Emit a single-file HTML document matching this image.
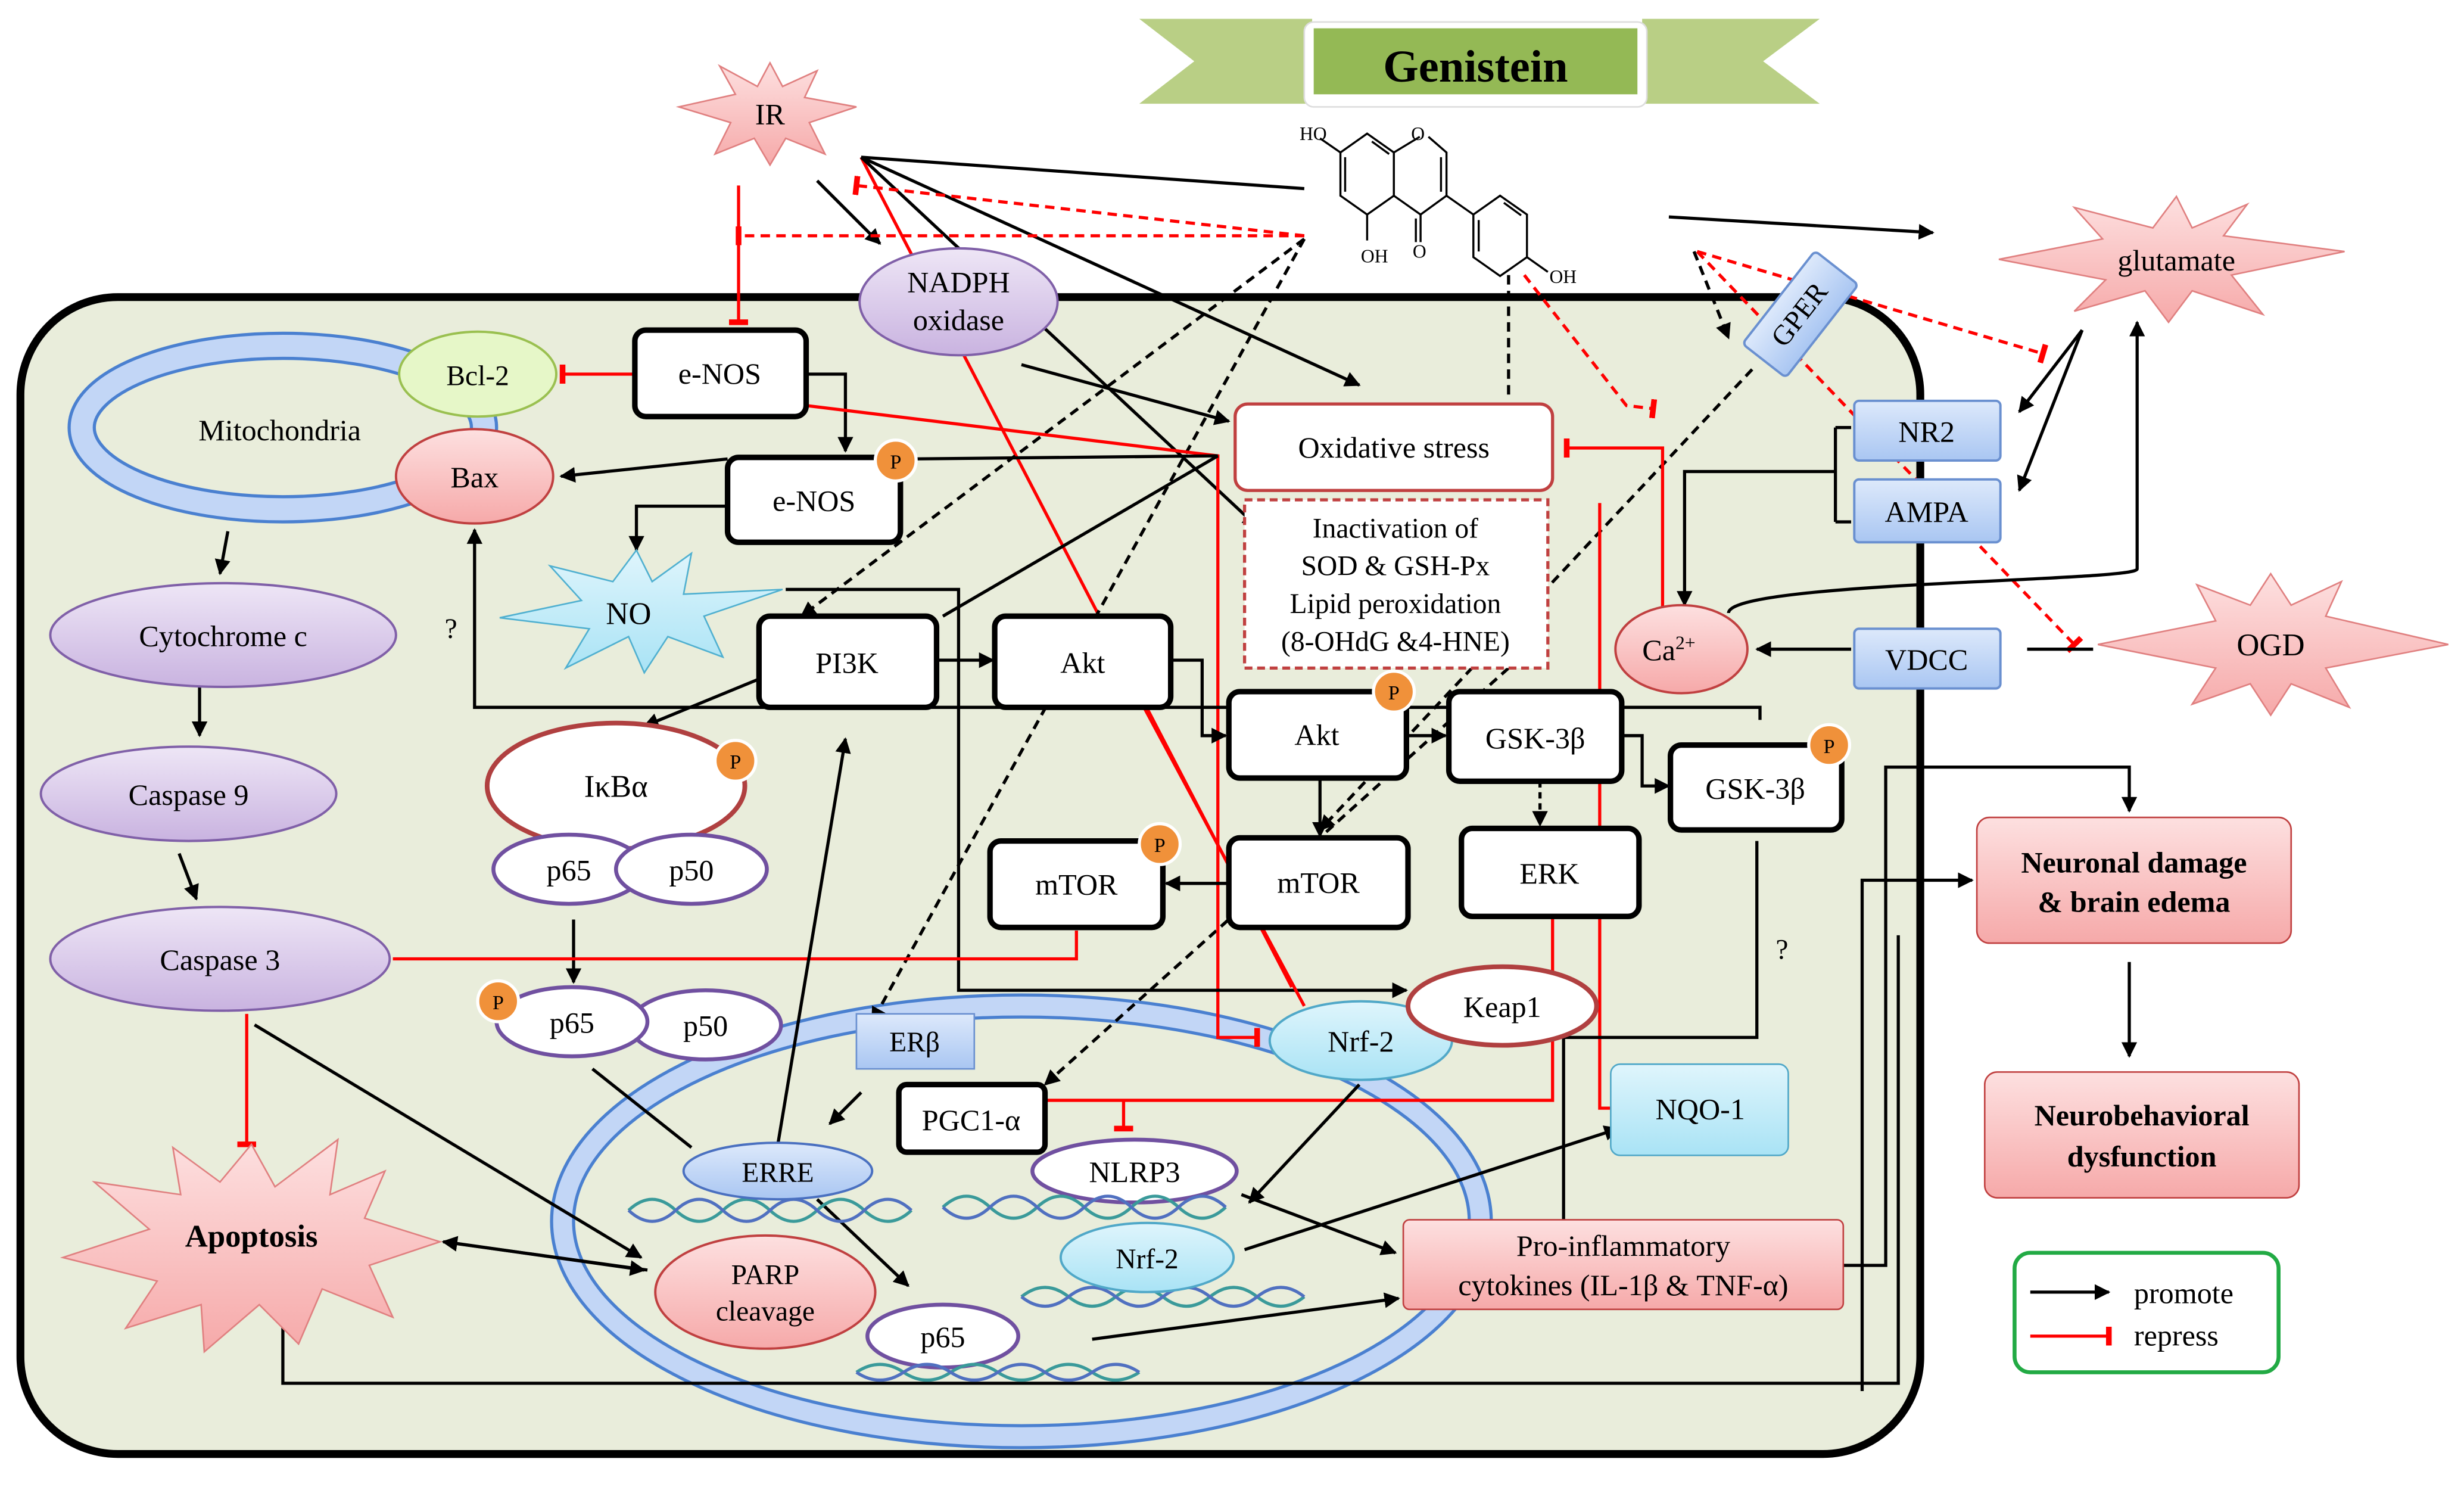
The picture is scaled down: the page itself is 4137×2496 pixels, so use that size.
<!DOCTYPE html>
<html><head><meta charset="utf-8"><style>
html,body{margin:0;padding:0;background:#fff;}
svg{display:block;}
text{font-family:"Liberation Serif",serif;fill:#000;}
</style></head><body>
<svg width="4137" height="2496" viewBox="0 0 1568 946" preserveAspectRatio="none" xmlns="http://www.w3.org/2000/svg">
<defs>
<marker id="a" viewBox="0 0 10 10" refX="9" refY="5" markerWidth="5" markerHeight="5" orient="auto"><path d="M0,0L10,5L0,10z" fill="#000"/></marker>
<marker id="t" viewBox="0 0 10 10" refX="5" refY="5" markerWidth="6" markerHeight="6" orient="auto"><path d="M5,-2V12" stroke="#f00" stroke-width="3"/></marker>
<linearGradient id="pu" x1="0" y1="0" x2="0" y2="1"><stop offset="0" stop-color="#eee6f6"/><stop offset="1" stop-color="#c9b3e0"/></linearGradient>
<linearGradient id="pk" x1="0" y1="0" x2="0" y2="1"><stop offset="0" stop-color="#fde0e0"/><stop offset="1" stop-color="#f6a9a9"/></linearGradient>
<linearGradient id="cy" x1="0" y1="0" x2="0" y2="1"><stop offset="0" stop-color="#dff5fc"/><stop offset="1" stop-color="#a9e3f5"/></linearGradient>
<linearGradient id="bl" x1="0" y1="0" x2="0" y2="1"><stop offset="0" stop-color="#dde9fb"/><stop offset="1" stop-color="#a9c6f2"/></linearGradient>
</defs>

<!-- cell -->
<rect x="13" y="189" width="1209" height="736" rx="62" fill="#e9eddb" stroke="#000" stroke-width="5"/>

<!-- nucleus (behind) -->
<ellipse cx="650" cy="777" rx="292" ry="137" fill="none" stroke="#4a80d0" stroke-width="16"/>
<ellipse cx="650" cy="777" rx="292" ry="137" fill="none" stroke="#c2d6f6" stroke-width="12"/>

<!-- banner -->
<polygon points="725,12 835,12 835,66 725,66 760,39" fill="#b9cf85"/>
<polygon points="1045,12 1158,12 1122,39 1158,66 1045,66" fill="#b9cf85"/>
<rect x="830" y="14" width="218" height="54" rx="6" fill="#fff" stroke="#ddd"/>
<rect x="836" y="18" width="206" height="42" fill="#94b955"/>
<text x="939" y="52" font-size="29" font-weight="bold" text-anchor="middle">Genistein</text>

<!-- structure -->
<g stroke="#000" stroke-width="1.3" fill="none">
<path d="M870,85 L887,97 L887,124.5 L870,136.5 L853,124.5 L853,97 Z"/>
<path d="M887,97 L903.5,87 M909,87 L920.5,97 L920.5,124.5 L904,136.5 L887,124.5"/>
<path d="M904,136.5 V154 M920.5,124.5 L937.6,136.5"/>
<path d="M937.6,136.5 L954.6,124.5 L971.7,136.5 L971.7,163.6 L954.6,175.6 L937.6,163.6 Z"/>
<path d="M971.7,163.6 L985,173 M853,97 L840,88 M870,136.5 V153"/>
<path d="M856,100 V122 M873,90 L884,98 M917,100 V122 M901,139 V154 M957,129 L968,137 M941,140 V160"/>
</g>
<text x="827" y="89" font-size="12" font-family="Liberation Sans">HO</text>
<text x="866" y="167" font-size="12" font-family="Liberation Sans">OH</text>
<text x="898" y="89" font-size="12" font-family="Liberation Sans">O</text>
<text x="899" y="164" font-size="12" font-family="Liberation Sans">O</text>
<text x="986" y="180" font-size="12" font-family="Liberation Sans">OH</text>

<!-- connectors -->
<g fill="none" stroke-width="2">
<path d="M548,100 L830,120" stroke="#000"/>
<path d="M548,100 L865,245" stroke="#000" marker-end="url(#a)"/>
<path d="M520,115 L560,155" stroke="#000" marker-end="url(#a)"/>
<path d="M548,100 L822,628" stroke="#f00"/>
<path d="M548,100 L800,335" stroke="#000" marker-end="url(#a)"/>
<path d="M470,118 V205" stroke="#f00" marker-end="url(#t)"/>
<path d="M830,150 L470,150" stroke="#f00" stroke-dasharray="6,4" marker-end="url(#t)"/>
<path d="M830,150 L545,118" stroke="#f00" stroke-dasharray="6,4" marker-end="url(#t)"/>
<path d="M830,152 L510,392" stroke="#000" stroke-dasharray="6,4" marker-end="url(#a)"/>
<path d="M830,152 L555,650" stroke="#000" stroke-dasharray="6,4" marker-end="url(#a)"/>
<path d="M960,175 V255" stroke="#000" stroke-dasharray="6,4"/>
<path d="M970,175 L1035,258 L1052,260" stroke="#f00" stroke-dasharray="6,4" marker-end="url(#t)"/>
<path d="M1062,138 L1230,148" stroke="#000" marker-end="url(#a)"/>
<path d="M1078,160 L1100,215" stroke="#000" stroke-dasharray="6,4" marker-end="url(#a)"/>
<path d="M1080,160 L1300,225" stroke="#f00" stroke-dasharray="6,4" marker-end="url(#t)"/>
<path d="M1080,160 L1320,410" stroke="#f00" stroke-dasharray="6,4" marker-end="url(#t)"/>
<path d="M1115,235 L840,528" stroke="#000" stroke-dasharray="6,4" marker-end="url(#a)"/>
<path d="M960,425 L665,690" stroke="#000" stroke-dasharray="6,4" marker-end="url(#a)"/>
<path d="M1325,210 L1285,312" stroke="#000" marker-end="url(#a)"/>
<path d="M1325,210 L1285,262" stroke="#000" marker-end="url(#a)"/>
<path d="M1100,390 C1100,370 1360,370 1360,362 V205" stroke="#000" marker-end="url(#a)"/>
<path d="M1168,272 V332 M1168,300 H1072 V385" stroke="#000" marker-end="url(#a)"/>
<path d="M1168,272 H1178 M1168,332 H1178" stroke="#000"/>
<path d="M1178,413 H1118" stroke="#000" marker-end="url(#a)"/>
<path d="M1332,413 H1290" stroke="#000"/>
<path d="M1058,395 V285 H997" stroke="#f00" marker-end="url(#t)"/>
<path d="M404,238 H358" stroke="#f00" marker-end="url(#t)"/>
<path d="M513,238 H538 V287" stroke="#000" marker-end="url(#a)"/>
<path d="M463,292 L357,303" stroke="#000" marker-end="url(#a)"/>
<path d="M463,322 H405 V350" stroke="#000" marker-end="url(#a)"/>
<path d="M513,258 L775,290 L775,660 L800,660" stroke="#f00" marker-end="url(#t)"/>
<path d="M650,232 L782,268" stroke="#000" marker-end="url(#a)"/>
<path d="M775,290 L600,392" stroke="#000"/>
<path d="M575,292 L775,290" stroke="#000"/>
<path d="M596,420 H632" stroke="#000" marker-end="url(#a)"/>
<path d="M483,432 L410,462" stroke="#000" marker-end="url(#a)"/>
<path d="M745,420 H765 V468 H780" stroke="#000" marker-end="url(#a)"/>
<path d="M895,468 H920" stroke="#000" marker-end="url(#a)"/>
<path d="M1032,468 H1045 V500 H1062" stroke="#000" marker-end="url(#a)"/>
<path d="M980,497 V525" stroke="#000" stroke-dasharray="4,3" marker-end="url(#a)"/>
<path d="M840,495 V532" stroke="#000" marker-end="url(#a)"/>
<path d="M782,562 H742" stroke="#000" marker-end="url(#a)"/>
<path d="M1120,458 V450 H302 V337" stroke="#000" marker-end="url(#a)"/>
<path d="M500,375 H610 V630 H895" stroke="#000" marker-end="url(#a)"/>
<path d="M728,450 L830,640" stroke="#f00"/>
<path d="M988,583 V700 H665" stroke="#f00"/>
<path d="M715,700 V718" stroke="#f00" marker-end="url(#t)"/>
<path d="M1018,320 V705 H1025" stroke="#f00"/>
<path d="M1118,535 V660 H995 V790" stroke="#000" marker-end="url(#a)"/>
<path d="M1208,595 V880 H180 V832" stroke="#000"/>
<path d="M1173,805 H1200 V488 H1355 V516" stroke="#000" marker-end="url(#a)"/>
<path d="M1185,885 V560 H1255" stroke="#000" marker-end="url(#a)"/>
<path d="M1355,612 V672" stroke="#000" marker-end="url(#a)"/>
<path d="M365,585 V625" stroke="#000" marker-end="url(#a)"/>
<path d="M250,610 H685 V592" stroke="#f00"/>
<path d="M157,645 V728" stroke="#f00" marker-end="url(#t)"/>
<path d="M162,652 L408,800" stroke="#000" marker-end="url(#a)"/>
<path d="M412,808 L282,790" stroke="#000" marker-end="url(#a)"/>
<path d="M283,790 L410,808" stroke="#000" marker-end="url(#a)"/>
<path d="M377,680 L440,730" stroke="#000"/>
<path d="M495,728 L538,470" stroke="#000" marker-end="url(#a)"/>
<path d="M548,695 L528,715" stroke="#000" marker-end="url(#a)"/>
<path d="M520,763 L578,818" stroke="#000" marker-end="url(#a)"/>
<path d="M790,760 L888,797" stroke="#000" marker-end="url(#a)"/>
<path d="M865,690 L795,765" stroke="#000" marker-end="url(#a)"/>
<path d="M792,795 L1030,718" stroke="#000" marker-end="url(#a)"/>
<path d="M695,852 L890,826" stroke="#000" marker-end="url(#a)"/>
<path d="M145,338 L140,365" stroke="#000" marker-end="url(#a)"/>
<path d="M127,437 V468" stroke="#000" marker-end="url(#a)"/>
<path d="M114,543 L125,572" stroke="#000" marker-end="url(#a)"/>
</g>
<text x="283" y="406" font-size="18">?</text>
<text x="1130" y="610" font-size="18">?</text>

<!-- starbursts -->
<polygon points="490,40 498,55 520,45 512,62 545,68 515,78 525,98 500,88 490,105 480,88 455,98 465,78 432,68 468,60 458,42 482,55" fill="url(#pk)" stroke="#e08080"/>
<text x="490" y="79" font-size="19" text-anchor="middle">IR</text>
<polygon points="1385,125 1395,145 1430,130 1415,150 1492,160 1420,175 1440,200 1395,185 1380,205 1365,185 1320,198 1340,178 1272,165 1338,152 1320,132 1370,145" fill="url(#pk)" stroke="#e08080"/>
<text x="1385" y="172" font-size="19" text-anchor="middle">glutamate</text>
<polygon points="1445,365 1458,385 1490,370 1480,392 1558,410 1480,425 1495,450 1458,435 1445,455 1432,435 1395,448 1410,425 1335,410 1410,395 1398,372 1432,385" fill="url(#pk)" stroke="#e08080"/>
<text x="1445" y="417" font-size="20" text-anchor="middle">OGD</text>
<polygon points="405,350 415,370 440,352 435,378 498,375 448,392 460,418 425,405 410,428 400,405 360,425 375,400 318,393 370,382 350,360 390,370" fill="url(#cy)" stroke="#50b0d0"/>
<text x="400" y="397" font-size="20" text-anchor="middle">NO</text>
<polygon points="160,728 175,755 215,725 210,760 245,745 232,775 280,790 235,805 250,838 205,820 190,855 165,830 130,860 128,830 80,845 100,815 40,800 95,782 60,752 115,760 110,730 140,752" fill="url(#pk)" stroke="#e08080"/>
<text x="160" y="793" font-size="20" font-weight="bold" text-anchor="middle">Apoptosis</text>

<!-- mitochondria -->
<ellipse cx="180" cy="272" rx="128" ry="52" fill="none" stroke="#4a80d0" stroke-width="18"/>
<ellipse cx="180" cy="272" rx="128" ry="52" fill="none" stroke="#c2d6f6" stroke-width="14"/>
<text x="178" y="280" font-size="19" text-anchor="middle">Mitochondria</text>
<ellipse cx="304" cy="238" rx="50" ry="27" fill="#e6f7c8" stroke="#9ac050" stroke-width="1.5"/>
<text x="304" y="245" font-size="18" text-anchor="middle">Bcl-2</text>
<ellipse cx="302" cy="303" rx="50" ry="30" fill="url(#pk)" stroke="#c04040" stroke-width="1.5"/>
<text x="302" y="310" font-size="19" text-anchor="middle">Bax</text>

<!-- purple ellipses -->
<g stroke="#8060a8" stroke-width="1.5" fill="url(#pu)">
<ellipse cx="142" cy="404" rx="110" ry="33"/>
<ellipse cx="120" cy="505" rx="94" ry="30"/>
<ellipse cx="140" cy="610" rx="108" ry="33"/>
<ellipse cx="610" cy="192" rx="63" ry="34"/>
</g>
<text x="142" y="411" font-size="19" text-anchor="middle">Cytochrome c</text>
<text x="120" y="512" font-size="19" text-anchor="middle">Caspase 9</text>
<text x="140" y="617" font-size="19" text-anchor="middle">Caspase 3</text>
<text x="610" y="186" font-size="19" text-anchor="middle">NADPH</text>
<text x="610" y="210" font-size="19" text-anchor="middle">oxidase</text>

<!-- boxes -->
<g fill="#fff" stroke="#000" stroke-width="3.5">
<rect x="404" y="210" width="109" height="55" rx="7"/>
<rect x="463" y="291" width="110" height="54" rx="7"/>
<rect x="483" y="392" width="113" height="58" rx="7"/>
<rect x="633" y="392" width="112" height="58" rx="7"/>
<rect x="782" y="440" width="113" height="55" rx="7"/>
<rect x="922" y="440" width="110" height="57" rx="7"/>
<rect x="1063" y="474" width="109" height="54" rx="7"/>
<rect x="630" y="535" width="110" height="55" rx="7"/>
<rect x="782" y="533" width="114" height="57" rx="7"/>
<rect x="930" y="527" width="113" height="56" rx="7"/>
<rect x="572" y="690" width="93" height="43" rx="5"/>
</g>
<g font-size="19" text-anchor="middle">
<text x="458" y="244">e-NOS</text>
<text x="518" y="325">e-NOS</text>
<text x="539" y="428">PI3K</text>
<text x="689" y="428">Akt</text>
<text x="838" y="474">Akt</text>
<text x="977" y="476">GSK-3β</text>
<text x="1117" y="508">GSK-3β</text>
<text x="685" y="569">mTOR</text>
<text x="839" y="568">mTOR</text>
<text x="986" y="562">ERK</text>
<text x="618" y="719">PGC1-α</text>
</g>

<!-- oxidative stress -->
<rect x="786" y="257" width="202" height="55" rx="8" fill="#fff" stroke="#c04040" stroke-width="2"/>
<text x="887" y="291" font-size="19" text-anchor="middle">Oxidative stress</text>
<rect x="792" y="318" width="193" height="107" fill="#fff" stroke="#c04040" stroke-width="2" stroke-dasharray="5,3"/>
<g font-size="18" text-anchor="middle">
<text x="888" y="342">Inactivation of</text>
<text x="888" y="366">SOD &amp; GSH-Px</text>
<text x="888" y="390">Lipid peroxidation</text>
<text x="888" y="414">(8-OHdG &amp;4-HNE)</text>
</g>

<!-- IkBa -->
<ellipse cx="392" cy="500" rx="82" ry="40" fill="#fff" stroke="#b04040" stroke-width="3"/>
<text x="392" y="507" font-size="20" text-anchor="middle">IκBα</text>
<g fill="#fff" stroke="#7050a0" stroke-width="2.5">
<ellipse cx="362" cy="553" rx="48" ry="22"/>
<ellipse cx="440" cy="553" rx="48" ry="22"/>
<ellipse cx="449" cy="652" rx="48" ry="22"/>
<ellipse cx="364" cy="650" rx="48" ry="22"/>
<ellipse cx="600" cy="850" rx="48" ry="20"/>
<ellipse cx="722" cy="745" rx="65" ry="20"/>
</g>
<g font-size="19" text-anchor="middle">
<text x="362" y="560">p65</text><text x="440" y="560">p50</text>
<text x="364" y="657">p65</text><text x="449" y="659">p50</text>
<text x="600" y="857">p65</text><text x="722" y="752">NLRP3</text>
</g>

<!-- P circles -->
<g fill="#f0913a" stroke="#fff" stroke-width="2">
<circle cx="570" cy="293" r="13"/><circle cx="468" cy="484" r="13"/><circle cx="317" cy="637" r="13"/>
<circle cx="887" cy="440" r="13"/><circle cx="1164" cy="474" r="13"/><circle cx="738" cy="537" r="13"/>
</g>
<g font-size="13" text-anchor="middle">
<text x="570" y="298" fill="#fff">P</text><text x="468" y="489" fill="#fff">P</text><text x="317" y="642" fill="#fff">P</text>
<text x="887" y="445" fill="#fff">P</text><text x="1164" y="479" fill="#fff">P</text><text x="738" y="542" fill="#fff">P</text>
</g>

<rect x="545" y="645" width="75" height="35" fill="url(#bl)" stroke="#6a90d0"/>
<text x="582" y="669" font-size="18" text-anchor="middle">ERβ</text>
<!-- DNA -->
<g fill="none" stroke-width="2">
<path d="M400,770 q15,-14 30,0 t30,0 t30,0 t30,0 t30,0 t30,0" stroke="#3a9a9a"/>
<path d="M400,770 q15,14 30,0 t30,0 t30,0 t30,0 t30,0 t30,0" stroke="#5070c0"/>
<path d="M600,768 q15,-14 30,0 t30,0 t30,0 t30,0 t30,0 t30,0" stroke="#3a9a9a"/>
<path d="M600,768 q15,14 30,0 t30,0 t30,0 t30,0 t30,0 t30,0" stroke="#5070c0"/>
<path d="M650,825 q15,-12 30,0 t30,0 t30,0 t30,0 t30,0 t30,0" stroke="#3a9a9a"/>
<path d="M650,825 q15,12 30,0 t30,0 t30,0 t30,0 t30,0 t30,0" stroke="#5070c0"/>
<path d="M545,873 q15,-10 30,0 t30,0 t30,0 t30,0 t30,0 t30,0" stroke="#3a9a9a"/>
<path d="M545,873 q15,10 30,0 t30,0 t30,0 t30,0 t30,0 t30,0" stroke="#5070c0"/>
</g>
<ellipse cx="495" cy="745" rx="60" ry="18" fill="url(#bl)" stroke="#4a70c0" stroke-width="1.5"/>
<text x="495" y="752" font-size="18" text-anchor="middle">ERRE</text>
<ellipse cx="487" cy="822" rx="70" ry="36" fill="url(#pk)" stroke="#c04040" stroke-width="1.5"/>
<text x="487" y="817" font-size="18" text-anchor="middle">PARP</text>
<text x="487" y="840" font-size="18" text-anchor="middle">cleavage</text>
<ellipse cx="730" cy="800" rx="55" ry="22" fill="url(#cy)" stroke="#50a8c8" stroke-width="1.5"/>
<text x="730" y="807" font-size="18" text-anchor="middle">Nrf-2</text>

<!-- Keap1 / Nrf-2 -->
<ellipse cx="866" cy="662" rx="58" ry="25" fill="url(#cy)" stroke="#50a8c8" stroke-width="1.5"/>
<text x="866" y="669" font-size="19" text-anchor="middle">Nrf-2</text>
<ellipse cx="956" cy="640" rx="60" ry="25" fill="#fff" stroke="#b04040" stroke-width="3"/>
<text x="956" y="647" font-size="19" text-anchor="middle">Keap1</text>
<rect x="1025" y="677" width="113" height="58" rx="6" fill="url(#cy)" stroke="#50a8c8"/>
<text x="1082" y="712" font-size="19" text-anchor="middle">NQO-1</text>
<rect x="893" y="776" width="280" height="57" rx="4" fill="url(#pk)" stroke="#c04040"/>
<text x="1033" y="799" font-size="19" text-anchor="middle">Pro-inflammatory</text>
<text x="1033" y="824" font-size="19" text-anchor="middle">cytokines (IL-1β &amp; TNF-α)</text>

<!-- receptors -->
<g fill="url(#bl)" stroke="#6a90d0" stroke-width="1.5">
<rect x="1180" y="255" width="93" height="38" rx="3"/>
<rect x="1180" y="305" width="93" height="40" rx="3"/>
<rect x="1180" y="400" width="93" height="38" rx="3"/>
<rect x="1108" y="183" width="75" height="35" rx="3" transform="rotate(-52 1145 200)"/>
</g>
<text x="1226" y="281" font-size="19" text-anchor="middle">NR2</text>
<text x="1226" y="332" font-size="19" text-anchor="middle">AMPA</text>
<text x="1226" y="426" font-size="19" text-anchor="middle">VDCC</text>
<text x="1145" y="206" font-size="18" text-anchor="middle" transform="rotate(-52 1145 200)">GPER</text>
<ellipse cx="1070" cy="413" rx="42" ry="28" fill="url(#pk)" stroke="#c04040" stroke-width="1.5"/>
<text x="1062" y="420" font-size="19" text-anchor="middle">Ca<tspan font-size="12" dy="-7">2+</tspan></text>

<!-- outcomes -->
<rect x="1258" y="520" width="200" height="80" rx="8" fill="url(#pk)" stroke="#c04040"/>
<text x="1358" y="555" font-size="19" font-weight="bold" text-anchor="middle">Neuronal damage</text>
<text x="1358" y="580" font-size="19" font-weight="bold" text-anchor="middle">&amp; brain edema</text>
<rect x="1263" y="682" width="200" height="80" rx="8" fill="url(#pk)" stroke="#c04040"/>
<text x="1363" y="716" font-size="19" font-weight="bold" text-anchor="middle">Neurobehavioral</text>
<text x="1363" y="742" font-size="19" font-weight="bold" text-anchor="middle">dysfunction</text>

<!-- legend -->
<rect x="1282" y="797" width="168" height="76" rx="10" fill="#fff" stroke="#22aa44" stroke-width="2.5"/>
<path d="M1292,822 H1342" stroke="#000" stroke-width="2" marker-end="url(#a)"/>
<path d="M1292,850 H1342" stroke="#f00" stroke-width="2" marker-end="url(#t)"/>
<text x="1358" y="829" font-size="19">promote</text>
<text x="1358" y="856" font-size="19">repress</text>
</svg>
</body></html>
